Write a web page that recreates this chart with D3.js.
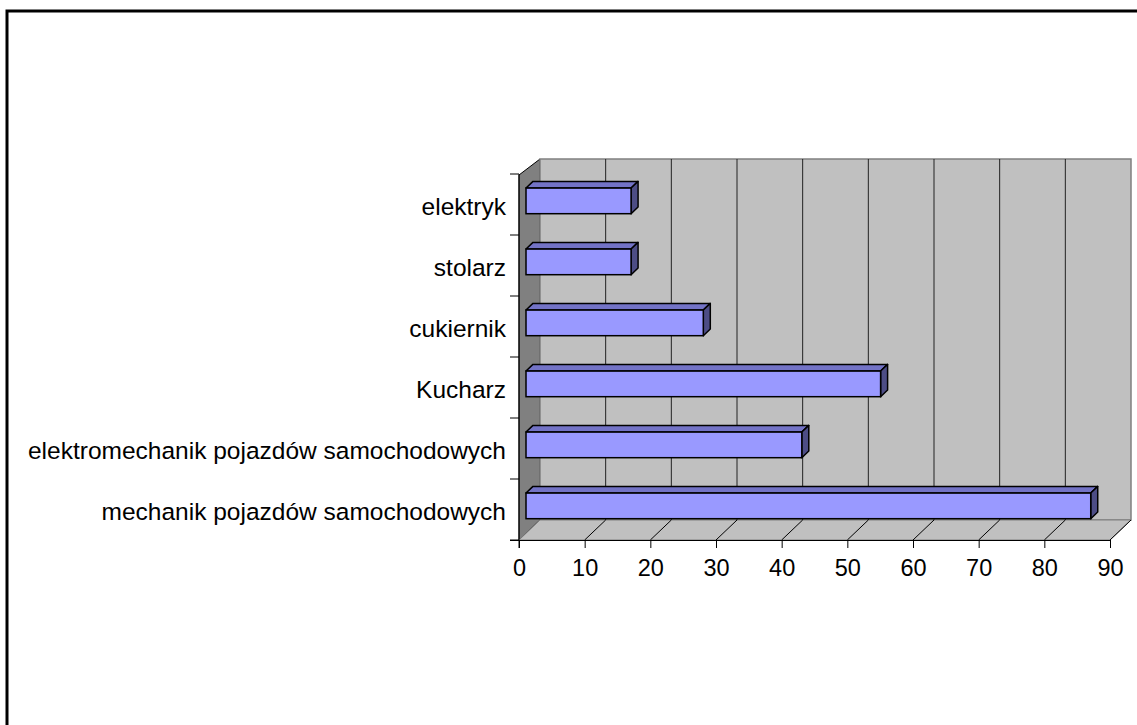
<!DOCTYPE html>
<html>
<head>
<meta charset="utf-8">
<script src="https://cdn.jsdelivr.net/npm/d3@7"></script>
<style>
html,body{margin:0;padding:0;background:#fff;}
svg{display:block;}
text{font-family:"Liberation Sans",Arial,sans-serif;fill:#000;}
</style>
</head>
<body>
<svg id="chart" width="1137" height="725"></svg>
<script>
const categories = ["elektryk","stolarz","cukiernik ","Kucharz","elektromechanik pojazdów samochodowych","mechanik pojazdów samochodowych"];
const values = [16,16,27,54,42,86];
const xTicks = [0,10,20,30,40,50,60,70,80,90];

const svg = d3.select("#chart");
const W = 1137, H = 725;
svg.append("rect").attr("width",W).attr("height",H).attr("fill","#fff");
// outer border (extends past window)
svg.append("rect").attr("x",7).attr("y",11).attr("width",1300).attr("height",900)
  .attr("fill","none").attr("stroke","#000").attr("stroke-width",3);

const x = d3.scaleLinear().domain([0,90]).range([519,1110]);
const y = d3.scaleBand().domain(categories).range([174,540]).padding(0);
const DX = 21, DY = -20;           // depth of walls
const f1 = 1/3, f2 = 2/3;          // bar depth fractions
const top0 = y.range()[0], bot0 = y.range()[1];
const x0 = x(0), x1 = x(90);

// left wall
svg.append("polygon")
  .attr("points",[[x0,top0+1],[x0+DX,top0+1+DY+4],[x0+DX,bot0+DY],[x0,bot0]].map(p=>p.join(",")).join(" "))
  .attr("fill","#808080").attr("stroke","#000").attr("stroke-width",1);
// back wall
svg.append("rect")
  .attr("x",x0+DX).attr("y",top0+DY+5).attr("width",x1-x0).attr("height",bot0-top0-5)
  .attr("fill","#c0c0c0").attr("stroke","#808080").attr("stroke-width",1.5);
// floor
svg.append("polygon")
  .attr("points",[[x0,bot0],[x0+DX,bot0+DY],[x1+DX,bot0+DY],[x1,bot0]].map(p=>p.join(",")).join(" "))
  .attr("fill","#c0c0c0").attr("stroke","#808080").attr("stroke-width",1);
// back wall gridlines
svg.append("g").selectAll("line").data(xTicks.slice(1,-1)).join("line")
  .attr("x1",d=>x(d)+DX).attr("x2",d=>x(d)+DX)
  .attr("y1",top0+DY+5).attr("y2",bot0+DY)
  .attr("stroke","#222").attr("stroke-width",1);
// floor gridlines
svg.append("g").selectAll("line").data(xTicks.slice(1)).join("line")
  .attr("x1",d=>x(d)).attr("x2",d=>x(d)+DX)
  .attr("y1",bot0).attr("y2",bot0+DY)
  .attr("stroke","#000").attr("stroke-width",1);

// bars
const bh = y.bandwidth()*0.42, boff = y.bandwidth()*0.34;
const ox1 = DX*f1, oy1 = DY*f1, ox2 = DX*f2, oy2 = DY*f2;
const bars = svg.append("g").selectAll("g").data(categories.map((c,i)=>({c,v:values[i]}))).join("g");
bars.each(function(d){
  const g = d3.select(this);
  const xl = x(0)+ox1, xr = x(d.v)+ox1;
  const yt = y(d.c)+boff+oy1, yb = yt+bh;
  const ddx = ox2-ox1, ddy = oy2-oy1;
  g.append("polygon")
    .attr("points",[[xl,yt],[xl+ddx,yt+ddy],[xr+ddx,yt+ddy],[xr,yt]].map(p=>p.join(",")).join(" "))
    .attr("fill","#7373c6").attr("stroke","#000").attr("stroke-width",1.5).attr("stroke-linejoin","round");
  g.append("polygon")
    .attr("points",[[xr,yt],[xr+ddx,yt+ddy],[xr+ddx,yb+ddy],[xr,yb]].map(p=>p.join(",")).join(" "))
    .attr("fill","#4d4d85").attr("stroke","#000").attr("stroke-width",1.5).attr("stroke-linejoin","round");
  g.append("rect").attr("x",xl).attr("y",yt).attr("width",xr-xl).attr("height",bh)
    .attr("fill","#9999ff").attr("stroke","#000").attr("stroke-width",1.5);
});

// x axis
const xAxis = d3.axisBottom(x).tickValues(xTicks).tickSize(8).tickPadding(11);
const gx = svg.append("g").attr("transform",`translate(0,${bot0})`).call(xAxis);
gx.select(".domain").attr("stroke","#000").attr("d",`M${x0-9},0.5H${x1}`);
gx.selectAll(".tick line").attr("stroke","#000");
gx.selectAll("text").attr("font-size","23.5px").attr("font-family","'Liberation Sans',Arial,sans-serif").attr("fill","#000");

// y axis
const ticksY = d3.range(categories.length+1).map(i=>top0+i*y.bandwidth());
svg.append("line").attr("x1",x0).attr("x2",x0).attr("y1",top0).attr("y2",bot0+8).attr("stroke","#000");
svg.append("g").selectAll("line").data(ticksY).join("line")
  .attr("x1",x0-9).attr("x2",x0).attr("y1",d=>d).attr("y2",d=>d).attr("stroke","#000");
svg.append("g").selectAll("text").data(categories).join("text")
  .attr("x",506).attr("y",d=>y(d)+y.bandwidth()/2+2)
  .attr("text-anchor","end").attr("dominant-baseline","central")
  .attr("font-size","24.5px").text(d=>d);
</script>
</body>
</html>
